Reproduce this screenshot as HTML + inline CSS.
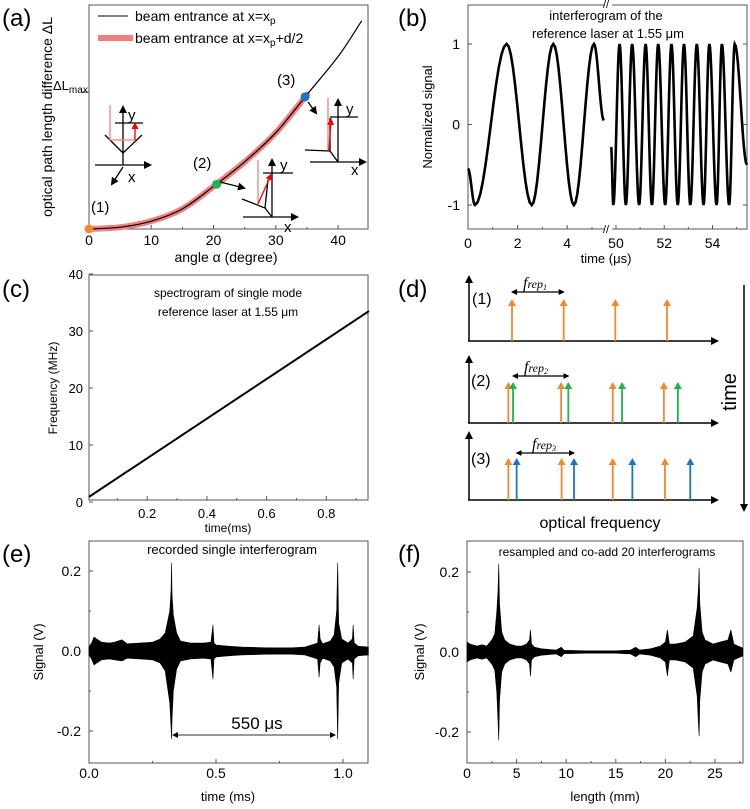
<!DOCTYPE html>
<html><head><meta charset="utf-8"><style>
html,body{margin:0;padding:0;background:#fff;}
svg{display:block;font-family:"Liberation Sans",sans-serif;}
</style></head><body>
<svg id="fig" width="750" height="809" viewBox="0 0 750 809" xmlns="http://www.w3.org/2000/svg">
<defs>
<marker id="ah" markerWidth="8" markerHeight="8" refX="6" refY="4" orient="auto" markerUnits="userSpaceOnUse"><path d="M0,0 L8,4 L0,8 z" fill="#000"/></marker>
<marker id="ahr" markerWidth="7" markerHeight="7" refX="5" refY="3.5" orient="auto" markerUnits="userSpaceOnUse"><path d="M0,0 L7,3.5 L0,7 z" fill="#e00"/></marker>
<marker id="ahs" markerWidth="6" markerHeight="6" refX="5" refY="3" orient="auto-start-reverse" markerUnits="userSpaceOnUse"><path d="M0,0 L6,3 L0,6 z" fill="#000"/></marker>
</defs>

<!-- ===== Panel (a) ===== -->
<g>
<text x="2" y="26" font-size="24">(a)</text>
<rect x="89" y="5" width="279" height="224" fill="none" stroke="#555" stroke-width="1"/>
<g id="a-ticks"></g>
<text x="226" y="262" font-size="14" text-anchor="middle">angle α (degree)</text>
<text transform="translate(52,117) rotate(-90)" font-size="14" text-anchor="middle">optical path length difference ΔL</text>
<line x1="82" y1="92" x2="89" y2="92" stroke="#555"/>
<text x="53" y="90" font-size="13">ΔL<tspan font-size="10" dy="3">max</tspan></text>
<g id="a-plot"></g>
<line x1="98" y1="16" x2="128" y2="16" stroke="#000" stroke-width="1"/>
<text x="135" y="21" font-size="14">beam entrance at x=x<tspan font-size="10" dy="3">p</tspan></text>
<line x1="98" y1="38" x2="133" y2="38" stroke="#f08080" stroke-width="6"/>
<text x="135" y="43" font-size="14">beam entrance at x=x<tspan font-size="10" dy="3">p</tspan><tspan dy="-3">+d/2</tspan></text>
<text x="91" y="212" font-size="15">(1)</text>
<text x="193" y="168" font-size="15">(2)</text>
<text x="277" y="85" font-size="15">(3)</text>
<g stroke-width="1.3" fill="none">
<line x1="95" y1="165" x2="150" y2="165" stroke="#000" marker-end="url(#ah)"/>
<line x1="123" y1="165" x2="123" y2="107" stroke="#000" marker-end="url(#ah)"/>
<line x1="123" y1="153" x2="105" y2="135" stroke="#000"/>
<line x1="123" y1="153" x2="142" y2="135" stroke="#000"/>
<line x1="115" y1="123" x2="143" y2="123" stroke="#000"/>
<polyline points="110,105 110,140 135,140" stroke="#f08080"/>
<line x1="135" y1="140" x2="135" y2="124" stroke="#e00" marker-end="url(#ahr)"/>
<line x1="123" y1="167" x2="112" y2="184" stroke="#000" marker-end="url(#ah)"/>
</g>
<text x="128" y="182" font-size="15">x</text>
<text x="128" y="120" font-size="15">y</text>
<g stroke-width="1.3" fill="none">
<line x1="243" y1="217" x2="297" y2="217" stroke="#000" marker-end="url(#ah)"/>
<line x1="272" y1="217" x2="272" y2="160" stroke="#000" marker-end="url(#ah)"/>
<line x1="263" y1="173" x2="293" y2="173" stroke="#000"/>
<polyline points="242,199 265,208 272,217" stroke="#000"/>
<line x1="265" y1="208" x2="268" y2="180" stroke="#000"/>
<line x1="258" y1="160" x2="258" y2="204" stroke="#f08080"/>
<line x1="258" y1="204" x2="271" y2="175" stroke="#e00" marker-end="url(#ahr)"/>
<line x1="220" y1="182" x2="244" y2="188" stroke="#000" marker-end="url(#ah)"/>
</g>
<text x="280" y="170" font-size="15">y</text>
<text x="284" y="232" font-size="15">x</text>
<g stroke-width="1.3" fill="none">
<line x1="310" y1="162" x2="365" y2="162" stroke="#000" marker-end="url(#ah)"/>
<line x1="338" y1="162" x2="338" y2="100" stroke="#000" marker-end="url(#ah)"/>
<line x1="330" y1="117" x2="358" y2="117" stroke="#000"/>
<polyline points="305,150 330,151 338,162" stroke="#000"/>
<line x1="330" y1="151" x2="330" y2="118" stroke="#000"/>
<line x1="328" y1="98" x2="328" y2="150" stroke="#f08080"/>
<line x1="329" y1="150" x2="331" y2="120" stroke="#e00" marker-end="url(#ahr)"/>
<line x1="308" y1="102" x2="316" y2="113" stroke="#000" marker-end="url(#ah)"/>
</g>
<text x="346" y="114" font-size="15">y</text>
<text x="351" y="175" font-size="15">x</text>
</g>

<!-- ===== Panel (b) ===== -->
<g>
<text x="398" y="26" font-size="24">(b)</text>
<rect x="468" y="5" width="279" height="224" fill="none" stroke="#555"/>
<g id="b-ticks"></g>
<g id="b-plot"></g>
<rect x="604" y="0" width="8" height="8" fill="#fff"/>
<text x="603" y="8" font-size="11">//</text>
<rect x="604" y="225" width="8" height="8" fill="#fff"/>
<text x="603" y="233" font-size="11">//</text>
<text x="606" y="20" font-size="13" text-anchor="middle">interferogram of the</text>
<text x="608" y="38" font-size="13" text-anchor="middle">reference laser at 1.55 μm</text>
<text x="606" y="263" font-size="13" text-anchor="middle">time (μs)</text>
<text transform="translate(432,117) rotate(-90)" font-size="13" text-anchor="middle">Normalized signal</text>
</g>

<!-- ===== Panel (c) ===== -->
<g>
<text x="2" y="297" font-size="24">(c)</text>
<rect x="89" y="275" width="279" height="225" fill="none" stroke="#555"/>
<g id="c-ticks"></g>
<g id="c-plot"></g>
<text x="228" y="297" font-size="12" text-anchor="middle">spectrogram of single mode</text>
<text x="228" y="316" font-size="12" text-anchor="middle">reference laser at 1.55 μm</text>
<text x="228" y="532" font-size="12" text-anchor="middle">time(ms)</text>
<text transform="translate(57,388) rotate(-90)" font-size="12" text-anchor="middle">Frequency (MHz)</text>
</g>

<!-- ===== Panel (d) ===== -->
<g>
<text x="398" y="297" font-size="24">(d)</text>
<g id="d-plot"></g>
<text x="472" y="304" font-size="16">(1)</text>
<text x="471" y="386" font-size="16">(2)</text>
<text x="471" y="464" font-size="16">(3)</text>
<text x="523" y="288" font-size="16" font-family="Liberation Serif,serif" font-style="italic">f<tspan font-size="12">rep</tspan><tspan font-size="8" dy="2">1</tspan></text>
<text x="524" y="372" font-size="16" font-family="Liberation Serif,serif" font-style="italic">f<tspan font-size="12">rep</tspan><tspan font-size="8" dy="2">2</tspan></text>
<text x="532" y="449" font-size="16" font-family="Liberation Serif,serif" font-style="italic">f<tspan font-size="12">rep</tspan><tspan font-size="8" dy="2">3</tspan></text>
<line x1="744" y1="285" x2="744" y2="510" stroke="#000" stroke-width="1.5" marker-end="url(#ah)"/>
<text transform="translate(736,392) rotate(-90)" font-size="20" text-anchor="middle">time</text>
<text x="600" y="528" font-size="16" text-anchor="middle">optical frequency</text>
</g>

<!-- ===== Panel (e) ===== -->
<g>
<text x="2" y="562" font-size="24">(e)</text>
<rect x="89" y="541" width="279" height="222" fill="none" stroke="#555"/>
<g id="e-ticks"></g>
<g id="e-plot"></g>
<text x="232" y="554" font-size="13" text-anchor="middle">recorded single interferogram</text>
<line x1="173" y1="735" x2="335" y2="735" stroke="#333" stroke-width="1" marker-start="url(#ahs)" marker-end="url(#ahs)"/>
<text x="257" y="729" font-size="17" text-anchor="middle">550 μs</text>
<text x="228" y="801" font-size="13" text-anchor="middle">time (ms)</text>
<text transform="translate(43,652) rotate(-90)" font-size="13" text-anchor="middle">Signal (V)</text>
</g>

<!-- ===== Panel (f) ===== -->
<g>
<text x="398" y="562" font-size="24">(f)</text>
<rect x="467" y="541" width="276" height="222" fill="none" stroke="#555"/>
<g id="f-ticks"></g>
<g id="f-plot"></g>
<text x="607" y="556" font-size="12" text-anchor="middle">resampled and co-add 20 interferograms</text>
<text x="605" y="801" font-size="13" text-anchor="middle">length (mm)</text>
<text transform="translate(424,652) rotate(-90)" font-size="13" text-anchor="middle">Signal (V)</text>
</g>
</svg>
<script>
// ---- data arrays ----
const aAngle = [0, 5, 10, 15, 20, 25, 30, 35, 40, 43.8];
const aDeltaL = [0, 0.008, 0.035, 0.09, 0.19, 0.3, 0.43, 0.6, 0.77, 0.93];
const aRedMaxAngle = 35;
const aMarkerAngle = [0, 20.5, 34.7];
const aMarkerDL = [0, 0.2, 0.59];
const aMarkerColor = ['#f08a30', '#1db44b', '#1a74c7'];
const aTicks = [0, 10, 20, 30, 40];

const bLeftT = [0, 0.28, 1.56, 2.57, 3.44, 4.27, 5.08, 5.48];
const bLeftV = [-0.55, -1, 1, -1, 1, -1, 1, 0.05];
const bRightT = [49.8, 49.89, 50.15, 50.41, 50.67, 50.96, 51.23, 51.49, 51.75, 52.04, 52.30, 52.56, 52.82, 53.08, 53.35, 53.63, 53.87, 54.17, 54.39, 54.69, 54.92, 55.43];
const bRightV = [-0.28, -1, 1, -1, 1, -1, 1, -1, 1, -1, 1, -1, 1, -1, 1, -1, 1, -1, 1, -1, 1, -0.5];
const bTicksLeft = [0, 2, 4];
const bTicksRight = [50, 52, 54];
const bYTicks = [-1, 0, 1];

const cTime = [0.005, 0.943];
const cFreq = [0.9, 33.5];
const cXTicks = [0.2, 0.4, 0.6, 0.8];
const cYTicks = [0, 10, 20, 30, 40];

const dOrange1 = [1, 2, 3, 4];
const dOrange2 = [0.93, 1.95, 2.95, 3.94];
const dGreen2 = [1.02, 2.09, 3.13, 4.21];
const dOrange3 = [0.93, 1.96, 2.95, 3.96];
const dBlue3 = [1.09, 2.2, 3.33, 4.45];

const eTime = [0, 0.01, 0.02, 0.03, 0.05, 0.08, 0.1, 0.13, 0.15, 0.2, 0.25, 0.28, 0.3, 0.318, 0.323, 0.325, 0.327, 0.332, 0.345, 0.36, 0.4, 0.45, 0.48, 0.488, 0.492, 0.5, 0.55, 0.6, 0.7, 0.8, 0.85, 0.9, 0.906, 0.91, 0.92, 0.95, 0.965, 0.975, 0.979, 0.983, 0.995, 1.02, 1.037, 1.04, 1.044, 1.06, 1.1];
const eUpper = [0.01, 0.02, 0.035, 0.03, 0.022, 0.02, 0.022, 0.028, 0.018, 0.02, 0.022, 0.03, 0.045, 0.1, 0.15, 0.22, 0.14, 0.09, 0.045, 0.025, 0.02, 0.02, 0.022, 0.065, 0.02, 0.015, 0.012, 0.01, 0.008, 0.008, 0.01, 0.02, 0.065, 0.03, 0.018, 0.025, 0.04, 0.1, 0.22, 0.07, 0.03, 0.02, 0.03, 0.065, 0.02, 0.012, 0.01];
const eLower = [-0.01, -0.02, -0.035, -0.03, -0.022, -0.02, -0.022, -0.025, -0.018, -0.02, -0.022, -0.03, -0.05, -0.13, -0.19, -0.22, -0.17, -0.1, -0.045, -0.025, -0.02, -0.018, -0.02, -0.07, -0.02, -0.015, -0.012, -0.01, -0.008, -0.008, -0.01, -0.02, -0.065, -0.03, -0.018, -0.025, -0.04, -0.09, -0.22, -0.08, -0.03, -0.02, -0.03, -0.07, -0.02, -0.012, -0.01];
const eXTicks = [0.0, 0.5, 1.0];
const eXLabels = ['0.0', '0.5', '1.0'];
const eYTicks = [-0.2, 0.0, 0.2];
const eYLabels = ['-0.2', '0.0', '0.2'];

const fLen = [0, 0.3, 1, 1.5, 2, 2.5, 2.8, 3.0, 3.12, 3.2, 3.28, 3.5, 3.8, 4.3, 5, 5.5, 6, 6.3, 6.4, 6.5, 6.8, 7.5, 8, 9, 9.5, 9.8, 10.5, 12, 15, 16.5, 17, 17.4, 18.5, 19.5, 20, 20.2, 20.4, 21, 22, 22.8, 23.2, 23.33, 23.4, 23.47, 23.7, 24, 24.8, 25.5, 26.3, 26.6, 26.9, 27.3, 27.8];
const fUpper = [0.025, 0.02, 0.015, 0.018, 0.015, 0.03, 0.045, 0.1, 0.15, 0.22, 0.12, 0.05, 0.03, 0.02, 0.015, 0.015, 0.02, 0.03, 0.055, 0.02, 0.012, 0.008, 0.007, 0.005, 0.012, 0.004, 0.004, 0.003, 0.003, 0.005, 0.012, 0.005, 0.008, 0.015, 0.025, 0.055, 0.02, 0.02, 0.025, 0.04, 0.11, 0.16, 0.21, 0.12, 0.05, 0.03, 0.02, 0.025, 0.03, 0.055, 0.02, 0.015, 0.01];
const fLower = [-0.025, -0.02, -0.015, -0.018, -0.015, -0.03, -0.045, -0.1, -0.17, -0.22, -0.12, -0.05, -0.03, -0.02, -0.015, -0.015, -0.02, -0.03, -0.06, -0.02, -0.012, -0.008, -0.007, -0.005, -0.012, -0.004, -0.004, -0.003, -0.003, -0.005, -0.012, -0.005, -0.008, -0.015, -0.025, -0.06, -0.02, -0.02, -0.025, -0.04, -0.11, -0.18, -0.21, -0.12, -0.05, -0.03, -0.02, -0.025, -0.03, -0.05, -0.02, -0.015, -0.01];
const fXTicks = [0, 5, 10, 15, 20, 25];
const fYTicks = [-0.2, 0.0, 0.2];
const fYLabels = ['-0.2', '0.0', '0.2'];

// ---- helpers ----
const NS = 'http://www.w3.org/2000/svg';
function mk(tag, attrs, parent, name) {
  const e = document.createElementNS(NS, tag);
  for (const k in attrs) e.setAttribute(k, attrs[k]);
  
  
  parent.appendChild(e);
  return e;
}
function lin(d0, d1, r0, r1) { return v => r0 + (v - d0) * (r1 - r0) / (d1 - d0); }
function txt(parent, x, y, s, size, anchor, name) {
  const t = mk('text', {x: x, y: y, 'font-size': size, 'text-anchor': anchor}, parent, name);
  t.textContent = s;
  return t;
}
function smoothPath(pts) {
  let d = 'M' + pts[0][0] + ',' + pts[0][1];
  for (let i = 0; i < pts.length - 1; i++) {
    const p0 = pts[Math.max(0, i - 1)], p1 = pts[i], p2 = pts[i + 1], p3 = pts[Math.min(pts.length - 1, i + 2)];
    const c1x = p1[0] + (p2[0] - p0[0]) / 6, c1y = p1[1] + (p2[1] - p0[1]) / 6;
    const c2x = p2[0] - (p3[0] - p1[0]) / 6, c2y = p2[1] - (p3[1] - p1[1]) / 6;
    d += ' C' + c1x + ',' + c1y + ' ' + c2x + ',' + c2y + ' ' + p2[0] + ',' + p2[1];
  }
  return d;
}
function xTick(g, x, yb, len, name) { mk('line', {x1: x, y1: yb, x2: x, y2: yb - len, stroke: '#555'}, g, name); }
function yTick(g, xl, y, len, name) { mk('line', {x1: xl, y1: y, x2: xl + len, y2: y, stroke: '#555'}, g, name); }

// ---- panel a ----
(function () {
  const X = lin(0, 44.8, 89, 368), Y = lin(0, 1, 229, 5);
  const g = document.getElementById('a-plot'), tg = document.getElementById('a-ticks');
  aTicks.forEach(v => { xTick(tg, X(v), 229, 4, 'a-x-tick'); txt(tg, X(v), 245, String(v), 14, 'middle', 'a-x-tick-label'); });
  [5, 15, 25, 35].forEach(v => xTick(tg, X(v), 229, 2, 'a-x-minor-tick'));
  const all = aAngle.map((a, i) => [X(a), Y(aDeltaL[i])]);
  const red = all.filter((p, i) => aAngle[i] <= aRedMaxAngle);
  mk('path', {d: smoothPath(red), fill: 'none', stroke: '#f08080', 'stroke-width': 6, 'stroke-linecap': 'round'}, g, 'series-red-thick-curve');
  mk('path', {d: smoothPath(all), fill: 'none', stroke: '#000', 'stroke-width': 1.2}, g, 'series-black-curve');
  aMarkerAngle.forEach((a, i) => mk('circle', {cx: X(a), cy: Y(aMarkerDL[i]), r: 4.5, fill: aMarkerColor[i]}, g, 'point-' + (i + 1)));
})();

// ---- panel b ----
(function () {
  const XL = lin(0, 5.645, 468, 608), XR = lin(49.67, 55.43, 608, 747), Y = lin(-1, 1, 205, 44);
  const g = document.getElementById('b-plot'), tg = document.getElementById('b-ticks');
  bTicksLeft.forEach(v => { xTick(tg, XL(v), 229, 4, 'b-x-tick'); txt(tg, XL(v), 248, String(v), 14, 'middle', 'b-x-tick-label'); });
  bTicksRight.forEach(v => { xTick(tg, XR(v), 229, 4, 'b-x-tick'); txt(tg, XR(v), 248, String(v), 14, 'middle', 'b-x-tick-label'); });
  [1, 3, 5].forEach(v => xTick(tg, XL(v), 229, 2, 'b-x-minor-tick'));
  [51, 53, 55].forEach(v => xTick(tg, XR(v), 229, 2, 'b-x-minor-tick'));
  bYTicks.forEach(v => { yTick(tg, 468, Y(v), 4, 'b-y-tick'); yTick(tg, 747, Y(v), -4, 'b-y-tick-right'); txt(tg, 460, Y(v) + 5, String(v), 14, 'end', 'b-y-tick-label'); });
  function seg(T, V, X, name) {
    let d = '';
    for (let i = 0; i < T.length - 1; i++) {
      const n = 12;
      for (let k = 0; k <= n; k++) {
        if (i > 0 && k === 0) continue;
        const s = k / n, t = T[i] + (T[i + 1] - T[i]) * s;
        const v = V[i] + (V[i + 1] - V[i]) * (1 - Math.cos(Math.PI * s)) / 2;
        d += (d ? ' L' : 'M') + X(t).toFixed(2) + ',' + Y(v).toFixed(2);
      }
    }
    mk('path', {d: d, fill: 'none', stroke: '#000', 'stroke-width': 2.6}, g, name);
  }
  seg(bLeftT, bLeftV, XL, 'series-interferogram-left');
  seg(bRightT, bRightV, XR, 'series-interferogram-right');
})();

// ---- panel c ----
(function () {
  const X = lin(0, 0.2, 87.5, 147.2), Y = lin(0, 40, 502, 274);
  const g = document.getElementById('c-plot'), tg = document.getElementById('c-ticks');
  cXTicks.forEach(v => { xTick(tg, X(v), 500, 4, 'c-x-tick'); txt(tg, X(v), 518, String(v), 13, 'middle', 'c-x-tick-label'); });
  [0.1, 0.3, 0.5, 0.7, 0.9].forEach(v => xTick(tg, X(v), 500, 2, 'c-x-minor-tick'));
  cYTicks.forEach(v => { yTick(tg, 89, Y(v), 4, 'c-y-tick'); txt(tg, 83, Y(v) + 5, String(v), 13, 'end', 'c-y-tick-label'); });
  mk('line', {x1: X(cTime[0]), y1: Y(cFreq[0]), x2: X(cTime[1]), y2: Y(cFreq[1]), stroke: '#000', 'stroke-width': 2}, g, 'series-frequency-line');
})();

// ---- panel d ----
(function () {
  const g = document.getElementById('d-plot');
  const X = lin(1, 4, 512, 667);
  const rows = [
    {axisY: 341, top: 277, tip: 299, arrowY: 292, fa: 1, fb: 2, groups: [[dOrange1, '#f08a30']]},
    {axisY: 423, top: 357, tip: 382, arrowY: 376, fa: 1.02, fb: 2.09, groups: [[dOrange2, '#f08a30'], [dGreen2, '#1db44b']]},
    {axisY: 500, top: 433, tip: 458, arrowY: 453, fa: 1.09, fb: 2.2, groups: [[dBlue3, '#1a74c7'], [dOrange3, '#f08a30']]}
  ];
  rows.forEach((r, ri) => {
    mk('line', {x1: 469, y1: r.axisY, x2: 469, y2: r.top, stroke: '#000', 'stroke-width': 1.5, 'marker-end': 'url(#ah)'}, g, 'comb-' + (ri + 1) + '-y-axis');
    mk('line', {x1: 468, y1: r.axisY, x2: 717, y2: r.axisY, stroke: '#000', 'stroke-width': 1.5, 'marker-end': 'url(#ah)'}, g, 'comb-' + (ri + 1) + '-x-axis');
    r.groups.forEach(([arr, col]) => arr.forEach(f => {
      const x = X(f);
      mk('line', {x1: x, y1: r.axisY, x2: x, y2: r.tip + 6, stroke: col, 'stroke-width': 1.8}, g, 'comb-line');
      mk('path', {d: 'M' + (x - 4) + ',' + (r.tip + 7) + ' L' + x + ',' + r.tip + ' L' + (x + 4) + ',' + (r.tip + 7) + ' z', fill: col}, g, 'comb-line-head');
    }));
    mk('line', {x1: X(r.fa), y1: r.arrowY, x2: X(r.fb), y2: r.arrowY, stroke: '#000', 'stroke-width': 1.3, 'marker-start': 'url(#ahs)', 'marker-end': 'url(#ahs)'}, g, 'frep-arrow-' + (ri + 1));
  });
})();

// ---- envelope panels ----
function envelope(gid, tid, T, U, L, X, Y, xt, xl, yt, yl, xl0, minorX, name) {
  const g = document.getElementById(gid), tg = document.getElementById(tid);
  xt.forEach((v, i) => { xTick(tg, X(v), 763, 4, name + '-x-tick'); txt(tg, X(v), 778, xl[i], 14, 'middle', name + '-x-tick-label'); });
  minorX.forEach(v => xTick(tg, X(v), 763, 2, name + '-x-minor-tick'));
  yt.forEach((v, i) => { yTick(tg, xl0, Y(v), 4, name + '-y-tick'); txt(tg, xl0 - 8, Y(v) + 5, yl[i], 14, 'end', name + '-y-tick-label'); });
  [-0.1, 0.1].forEach(v => yTick(tg, xl0, Y(v), 2, name + '-y-minor-tick'));
  let d = '';
  T.forEach((t, i) => { d += (i ? ' L' : 'M') + X(t).toFixed(2) + ',' + Y(U[i]).toFixed(2); });
  for (let i = T.length - 1; i >= 0; i--) d += ' L' + X(T[i]).toFixed(2) + ',' + Y(L[i]).toFixed(2);
  d += ' z';
  mk('path', {d: d, fill: '#000', stroke: '#000', 'stroke-width': 0.6, 'stroke-linejoin': 'round'}, g, name + '-signal-envelope');
}
envelope('e-plot', 'e-ticks', eTime, eUpper, eLower, lin(0, 0.5, 89, 216), lin(0, 0.2, 651, 571), eXTicks, eXLabels, eYTicks, eYLabels, 89, [0.25, 0.75], 'e');
envelope('f-plot', 'f-ticks', fLen, fUpper, fLower, lin(0, 25, 467, 715), lin(0, 0.2, 652, 572), fXTicks, fXTicks.map(String), fYTicks, fYLabels, 467, [2.5, 7.5, 12.5, 17.5, 22.5, 27.5], 'f');
</script>
</body></html>
